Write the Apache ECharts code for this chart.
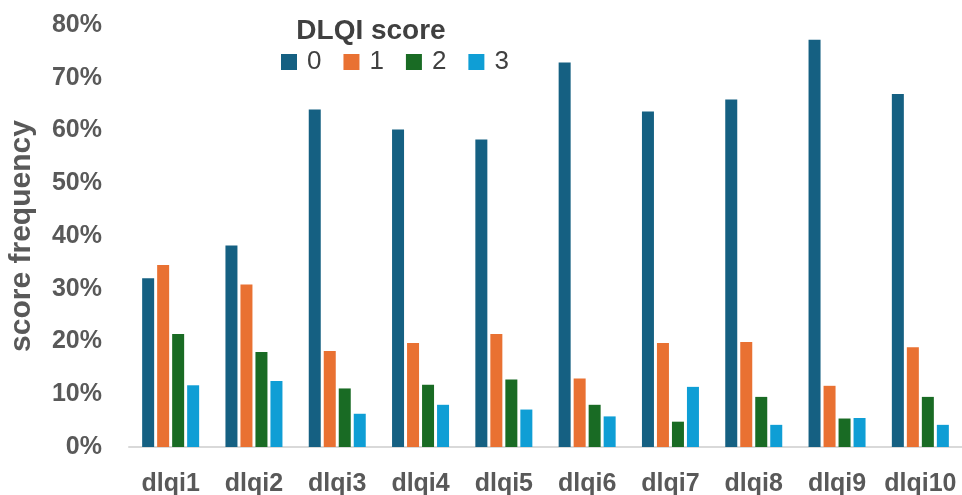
<!DOCTYPE html>
<html>
<head>
<meta charset="utf-8">
<title>DLQI score frequency</title>
<script src="https://cdn.jsdelivr.net/npm/echarts@6/dist/echarts.min.js"></script>
<style>
  html, body { margin: 0; padding: 0; background: #ffffff; }
  #chart { width: 962px; height: 495px; }
</style>
</head>
<body>
<div id="chart"></div>
<script>
// Questionnaire items on the x axis
const categories = ['dlqi1', 'dlqi2', 'dlqi3', 'dlqi4', 'dlqi5', 'dlqi6', 'dlqi7', 'dlqi8', 'dlqi9', 'dlqi10'];

// Share of respondents (%) giving each DLQI score per item
const score0 = [32.0, 38.2, 64.0, 60.2, 58.3, 72.9, 63.6, 65.9, 77.2, 66.9];
const score1 = [34.5, 30.8, 18.2, 19.7, 21.4, 13.0, 19.7, 19.9, 11.6, 18.9];
const score2 = [21.4, 18.0, 11.1, 11.8, 12.8, 8.0, 4.8, 9.5, 5.4, 9.5];
const score3 = [11.7, 12.5, 6.3, 8.0, 7.1, 5.8, 11.4, 4.2, 5.5, 4.2];

const seriesNames = ['0', '1', '2', '3'];
const seriesValues = [score0, score1, score2, score3];
const seriesColors = ['#156082', '#E97132', '#196B24', '#0F9ED5'];

const FONT = '"Liberation Sans", Arial, sans-serif';

const chart = echarts.init(document.getElementById('chart'), null, { renderer: 'canvas' });

chart.setOption({
  backgroundColor: '#ffffff',
  animation: false,
  graphic: [{
    type: 'text',
    x: 371,
    y: 31,
    style: {
      text: 'DLQI score',
      fill: '#404040',
      font: 'bold 28px "Liberation Sans", Arial, sans-serif',
      textAlign: 'center',
      textVerticalAlign: 'middle'
    }
  }],
  legend: {
    left: 281,
    top: 49,
    icon: 'rect',
    itemWidth: 16,
    itemHeight: 16,
    itemGap: 22,
    padding: 0,
    textStyle: {
      color: '#404040',
      fontFamily: FONT,
      fontSize: 26,
      padding: [0, 0, 0, 5]
    },
    data: seriesNames
  },
  grid: {
    left: 129,
    right: 0,
    top: 25,
    bottom: 48,
    outerBoundsMode: 'none'
  },
  xAxis: {
    type: 'category',
    data: categories,
    axisLine: { lineStyle: { color: '#d9d9d9', width: 2 } },
    axisTick: { show: false },
    axisLabel: {
      color: '#595959',
      fontFamily: FONT,
      fontWeight: 'bold',
      fontSize: 25,
      margin: 25,
      interval: 0
    }
  },
  yAxis: {
    type: 'value',
    min: 0,
    max: 80,
    interval: 10,
    name: 'score frequency',
    nameLocation: 'middle',
    nameGap: 92,
    nameTextStyle: {
      color: '#595959',
      fontFamily: FONT,
      fontWeight: 'bold',
      fontSize: 30
    },
    axisLine: { show: false },
    axisTick: { show: false },
    splitLine: { show: false },
    axisLabel: {
      formatter: '{value}%',
      color: '#595959',
      fontFamily: FONT,
      fontWeight: 'bold',
      fontSize: 25,
      margin: 27
    }
  },
  series: seriesNames.map((name, i) => ({
    name: name,
    type: 'bar',
    data: seriesValues[i],
    barWidth: 12,
    barGap: '25%',
    itemStyle: { color: seriesColors[i] }
  }))
});
</script>
</body>
</html>
